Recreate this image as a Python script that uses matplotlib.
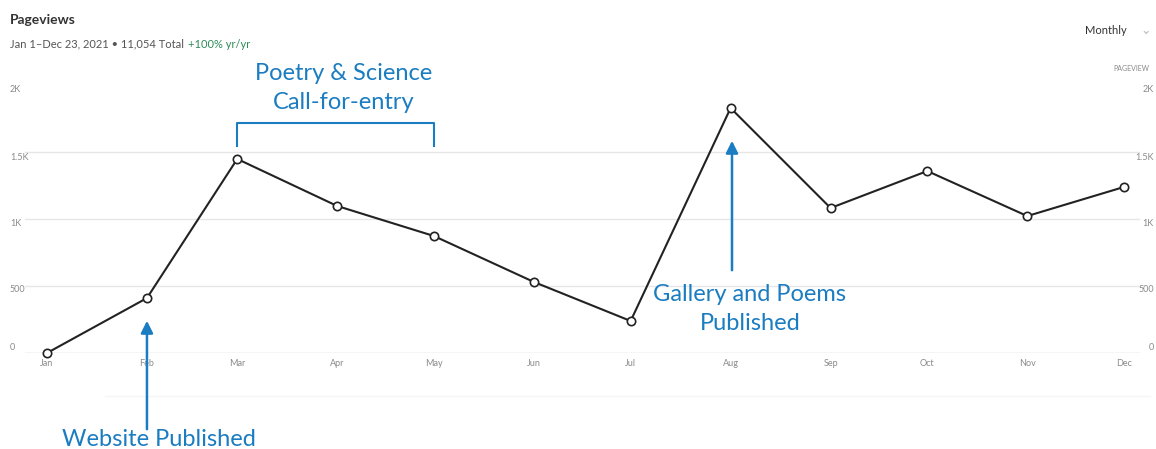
import matplotlib
matplotlib.use("Agg")
import matplotlib.pyplot as plt
import matplotlib.dates as mdates
import pandas as pd

# monthly pageviews
months = ["Jan", "Feb", "Mar", "Apr", "May", "Jun",
          "Jul", "Aug", "Sep", "Oct", "Nov", "Dec"]
month_starts = pd.date_range("2021-01-01", periods=12, freq="MS")
pageviews = [0, 410, 1448, 1097, 873, 530, 239, 1828, 1082, 1358, 1022, 1239]
ytick_vals = [0, 500, 1000, 1500, 2000]
ytick_labels = ["0", "500", "1K", "1.5K", "2K"]

W, H = 1156, 449
BLUE = "#1a7cc1"
GRAY = "#8a8a8a"

plt.rcParams['font.family'] = ['Lato', 'DejaVu Sans']

fig = plt.figure(figsize=(W / 100, H / 100), dpi=100)

# axes placed in pixel terms: y=0 at 353px, y=2000 at 85px
x_left, x_right = 25, 1140
y_zero, y_top = 353, 85
ax = fig.add_axes([x_left / W, (H - y_zero) / H,
                   (x_right - x_left) / W, (y_zero - y_top) / H])

xs = mdates.date2num(month_starts)
px_per_day = (1124 - 47) / (xs[-1] - xs[0])

# pixel -> data helpers for annotation placement
def dx(px):
    return xs[0] + (px - 47) / px_per_day
def dy(py):
    return (y_zero - py) / (y_zero - y_top) * 2000

ax.set_xlim(dx(x_left), dx(x_right))
ax.set_ylim(0, 2000)
ax.axis("off")

# grid
for v in ytick_vals[1:-1]:
    ax.axhline(v, color="#e6e6e6", lw=1, zorder=0)
ax.axhline(0, color="#cfcfcf", lw=1, zorder=0)
ax.plot([dx(105), dx(1150)], [dy(396), dy(396)], color="#f5f5f5", lw=1,
        clip_on=False, zorder=0)

ax.plot(xs, pageviews, color="#222222", lw=1.5, marker="o", ms=6,
        mfc="white", mec="#222222", mew=1.2, clip_on=False, zorder=3)

# month labels
for xv, m in zip(xs, months):
    ax.text(xv, dy(364), m, ha="center", va="center", fontsize=6.5,
            color=GRAY, clip_on=False)

# left/right value labels
label_px = {2000: 89, 1500: 157, 1000: 224, 500: 290, 0: 347}
for v, lab in zip(ytick_vals, ytick_labels):
    ax.text(dx(10), dy(label_px[v]), lab, ha="left", va="center",
            fontsize=6.5, color=GRAY, clip_on=False)
    ax.text(dx(1154), dy(label_px[v]), lab, ha="right", va="center",
            fontsize=6.5, color=GRAY, clip_on=False)

# header texts
fig.text(10 / W, 1 - 20 / H, "Pageviews", fontsize=10, fontweight="bold",
         color="#333333", va="center", ha="left")
fig.text(10 / W, 1 - 44 / H, "Jan 1\u2013Dec 23, 2021 \u2022 11,054 Total ",
         fontsize=8, color="#555555", va="center", ha="left")
fig.text(188 / W, 1 - 44 / H, "+100% yr/yr", fontsize=8, color="#2e8b57",
         va="center", ha="left")
fig.text(1085 / W, 1 - 30 / H, "Monthly", fontsize=8, color="#333333",
         va="center", ha="left")
fig.text(1140 / W, 1 - 30 / H, "\u2304", fontsize=9, color="#bbbbbb",
         va="center", ha="left")
fig.text(1113 / W, 1 - 69 / H, "PAGEVIEW", fontsize=5, color=GRAY,
         va="center", ha="left")

# annotations
ax.text(dx(344), dy(88), "Poetry & Science\nCall-for-entry", ha="center",
        va="center", fontsize=17, color=BLUE, linespacing=1.42, clip_on=False)
ax.plot([xs[2], xs[2], xs[4], xs[4]],
        [dy(146), dy(123), dy(123), dy(146)], color=BLUE, lw=1.5,
        clip_on=False)

ax.annotate("", xy=(xs[1], dy(318)), xytext=(xs[1], dy(432)),
            arrowprops=dict(arrowstyle="-|>", color=BLUE, lw=1.8,
                            mutation_scale=18),
            annotation_clip=False)
ax.text(dx(159), dy(440), "Website Published", ha="center", va="center",
        fontsize=17, color=BLUE, clip_on=False)

ax.annotate("", xy=(dx(732), dy(138)), xytext=(dx(732), dy(273)),
            arrowprops=dict(arrowstyle="-|>", color=BLUE, lw=1.8,
                            mutation_scale=18),
            annotation_clip=False)
ax.text(dx(750), dy(309), "Gallery and Poems\nPublished", ha="center",
        va="center", fontsize=17, color=BLUE, linespacing=1.42, clip_on=False)

fig.savefig("out.png", dpi=100, facecolor="white")
